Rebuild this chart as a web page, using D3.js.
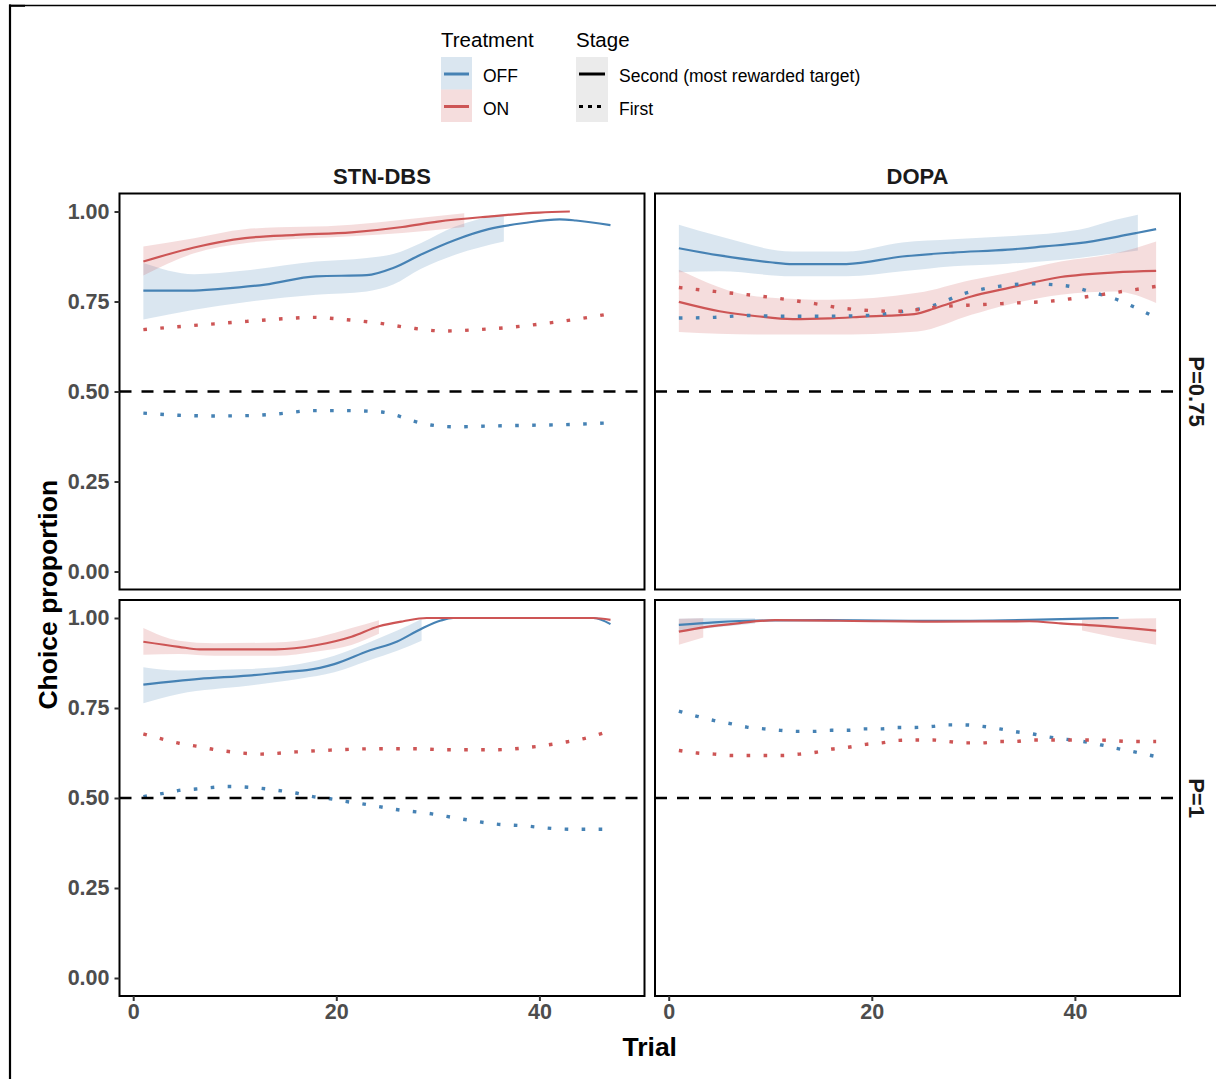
<!DOCTYPE html>
<html><head><meta charset="utf-8">
<script src="https://cdn.jsdelivr.net/npm/d3@7"></script>
<style>
body{margin:0;background:#fff}
svg{display:block}
text{font-family:"Liberation Sans",Arial,sans-serif}
</style></head>
<body><svg id="c" width="1216" height="1079"></svg>
<script>
// ---------- data ----------
const trialRange = [1, 48];
const yTicks = [0, 0.25, 0.5, 0.75, 1];
const xTicks = [0, 20, 40];
const facetCols = ["STN-DBS", "DOPA"];
const facetRows = ["P=0.75", "P=1"];
const treatments = ["OFF", "ON"];
const stages = ["Second (most rewarded target)", "First"];
const chanceLevel = 0.5;

// [trial, value]
const stn075OffSecond = [[1,0.780],[5.5,0.780],[8.6,0.785],[13,0.797],[18,0.820],[23,0.823],[25.6,0.843],[28.3,0.880],[31.7,0.921],[35,0.951],[38.5,0.968],[42,0.978],[43.6,0.975],[47,0.962]];
const stn075OnSecond  = [[1,0.861],[6,0.900],[11,0.926],[16,0.935],[21.5,0.942],[26.5,0.957],[30,0.972],[35,0.986],[40,0.997],[43,1.0]];
const stn075OffFirst  = [[1,0.440],[4.5,0.434],[8,0.432],[11.3,0.433],[14.3,0.438],[17.7,0.447],[21,0.447],[24.5,0.443],[26,0.433],[27.6,0.418],[29.3,0.407],[31.7,0.402],[35,0.404],[38.5,0.406],[42.5,0.408],[47,0.413]];
const stn075OnFirst   = [[1,0.672],[8,0.688],[11.3,0.695],[14.7,0.702],[17.7,0.706],[20.8,0.700],[24.2,0.690],[27.2,0.677],[30.6,0.668],[34,0.672],[37.4,0.679],[40.8,0.690],[43.9,0.702],[47,0.716]];
// [trial, lower, upper]
const stn075OffBand = [[1,0.700,0.857],[6,0.727,0.826],[11,0.748,0.836],[18,0.769,0.861],[23,0.778,0.871],[25.6,0.797,0.882],[28.3,0.840,0.912],[31.7,0.880,0.958],[36.5,0.917,0.993]];
const stn075OnBand  = [[1,0.822,0.903],[6,0.884,0.926],[11,0.912,0.951],[21.5,0.931,0.963],[26.5,0.940,0.977],[32.6,0.957,0.995]];

const dopa075OffSecond = [[1,0.898],[5,0.878],[10,0.859],[12.2,0.854],[17.5,0.854],[23,0.875],[28,0.886],[33.4,0.894],[37,0.903],[40.4,0.912],[44,0.929],[46,0.940],[48,0.951]];
const dopa075OnSecond  = [[1,0.749],[5,0.723],[8.7,0.709],[12.2,0.701],[15.8,0.703],[19.3,0.708],[24.2,0.715],[26.3,0.732],[29.8,0.764],[33.4,0.787],[38.6,0.818],[44,0.831],[48,0.835]];
const dopa075OffFirst  = [[1,0.704],[4.5,0.706],[7.8,0.711],[11.2,0.709],[14.4,0.709],[19.3,0.711],[22.4,0.720],[26,0.738],[29.1,0.772],[32.5,0.792],[35.6,0.799],[39,0.794],[42.2,0.772],[44,0.757],[45.5,0.739],[48,0.705]];
const dopa075OnFirst   = [[1,0.789],[4.5,0.778],[7.7,0.769],[11,0.758],[14.4,0.744],[17.5,0.730],[22.4,0.723],[27.4,0.737],[30.5,0.741],[34.1,0.746],[37.2,0.750],[40.8,0.762],[44,0.775],[48,0.792]];
const dopa075OffBand = [[1,0.831,0.963],[5,0.834,0.931],[12.2,0.820,0.889],[17.5,0.820,0.889],[23,0.834,0.914],[28,0.848,0.923],[33.4,0.855,0.931],[40.4,0.871,0.949],[44,0.884,0.977],[46.2,0.892,0.991]];
const dopa075OnBand  = [[1,0.665,0.838],[8.7,0.658,0.764],[15.8,0.658,0.755],[24.5,0.667,0.774],[29.8,0.713,0.810],[33.4,0.741,0.829],[38.6,0.769,0.861],[44,0.778,0.884],[48,0.746,0.917]];

const stn1OffSecond = [[1,0.815],[6.5,0.831],[11.3,0.840],[15.4,0.851],[17.1,0.855],[19.8,0.872],[23.2,0.909],[26,0.935],[28.3,0.969],[30.3,0.993],[31.5,1.0],[45.3,1.0],[47,0.983]];
const stn1OnSecond  = [[1,0.934],[4.5,0.920],[6.5,0.913],[14,0.913],[18.1,0.925],[21.5,0.948],[24.2,0.977],[26.6,0.991],[28.9,1.0],[45.3,1.0],[47,0.995]];
const stn1OffFirst  = [[1,0.504],[2.8,0.512],[4.5,0.521],[6.2,0.525],[9.4,0.532],[12.6,0.527],[14.3,0.521],[16,0.514],[17.7,0.504],[19.4,0.498],[20.8,0.491],[22.5,0.484],[24.2,0.476],[25.9,0.468],[28.9,0.458],[32.3,0.442],[35.6,0.428],[38.8,0.422],[40.5,0.417],[43.7,0.413],[47,0.413]];
const stn1OnFirst   = [[1,0.678],[2.8,0.664],[4.5,0.652],[6.2,0.644],[7.9,0.635],[9.4,0.629],[12.6,0.622],[16,0.628],[19.4,0.633],[24.2,0.637],[27.6,0.637],[30.8,0.634],[35.7,0.634],[39.1,0.641],[42.5,0.655],[44.2,0.664],[47,0.687]];
const stn1OffBand = [[1,0.763,0.863],[4.5,0.789,0.854],[11.3,0.812,0.858],[16.4,0.831,0.872],[19.8,0.849,0.895],[23.2,0.882,0.932],[26,0.909,0.965],[28.4,0.937,0.997]];
const stn1OnBand  = [[1,0.898,0.972],[4.5,0.900,0.937],[8,0.895,0.930],[14,0.895,0.932],[18.1,0.907,0.946],[21.5,0.925,0.972],[24.2,0.956,0.994]];

const dopa1OffSecond = [[1,0.981],[4.5,0.988],[8.7,0.993],[15,0.994],[21,0.993],[26.3,0.992],[35.5,0.995],[42,0.999],[44.3,1.0]];
const dopa1OnSecond  = [[1,0.962],[3.4,0.974],[7,0.986],[10.5,0.994],[21,0.991],[26.3,0.990],[35.5,0.991],[38.6,0.985],[42.2,0.979],[45.7,0.971],[48,0.965]];
const dopa1OffFirst  = [[1,0.741],[2.8,0.727],[4.5,0.715],[6.2,0.706],[7.7,0.697],[9.4,0.692],[11,0.688],[12.7,0.685],[14.3,0.685],[16,0.688],[17.7,0.688],[19.3,0.692],[21,0.692],[22.6,0.696],[24.2,0.696],[26,0.699],[27.5,0.703],[29.1,0.703],[30.9,0.699],[32.6,0.692],[34.2,0.684],[35.8,0.678],[37.5,0.669],[39.2,0.663],[40.8,0.657],[42.5,0.648],[44.1,0.638],[45.7,0.629],[48,0.615]];
const dopa1OnFirst   = [[1,0.632],[2.8,0.625],[4.5,0.622],[6.2,0.618],[9.5,0.618],[11.2,0.618],[12.9,0.622],[14.5,0.627],[16.1,0.636],[17.7,0.641],[19.4,0.649],[21,0.653],[22.6,0.660],[24.2,0.661],[26,0.661],[27.5,0.657],[29.1,0.653],[30.8,0.653],[32.5,0.657],[34.1,0.657],[35.6,0.661],[39,0.661],[42.3,0.661],[45.7,0.657],[48,0.657]];
const dopa1OffBand  = [[1,0.962,0.998],[5,0.975,0.999],[8.5,0.985,0.999]];
const dopa1OnBandA  = [[1,0.926,0.998],[3.4,0.946,0.999]];
const dopa1OnBandB  = [[40.7,0.965,0.995],[44,0.946,0.997],[48,0.926,0.999]];

// ---------- drawing ----------
const svg = d3.select("#c");
const W = 1216, H = 1079;
const colX = [119.5, 655], rowY = [193.5, 600], PW = 525, PH = 396;
const span = trialRange[1] - trialRange[0];
const x = d3.scaleLinear().domain([trialRange[0] - 0.05*span, trialRange[1] + 0.05*span]).range([0, PW]);
const y = d3.scaleLinear().domain([-0.05, 1.05]).range([PH, 0]);
const col = {OFF: "#4682B4", ON: "#CD5555"};
const tickCol = "#4D4D4D";

// outer frame
svg.append("line").attr("x1",9).attr("x2",W).attr("y1",5.5).attr("y2",5.5).attr("stroke","#000").attr("stroke-width",1.3);
svg.append("line").attr("x1",10).attr("x2",10).attr("y1",4.5).attr("y2",H).attr("stroke","#000").attr("stroke-width",2.2);
svg.append("line").attr("x1",9).attr("x2",25).attr("y1",5.8).attr("y2",5.8).attr("stroke","#000").attr("stroke-width",2);

const panels = [
  {c:0, r:0, bands:[[stn075OffBand,"OFF"],[stn075OnBand,"ON"]],
   lines:[[stn075OffSecond,"OFF",0],[stn075OnSecond,"ON",0],[stn075OffFirst,"OFF",1],[stn075OnFirst,"ON",1]]},
  {c:1, r:0, bands:[[dopa075OffBand,"OFF"],[dopa075OnBand,"ON"]],
   lines:[[dopa075OffSecond,"OFF",0],[dopa075OnSecond,"ON",0],[dopa075OffFirst,"OFF",1],[dopa075OnFirst,"ON",1]]},
  {c:0, r:1, bands:[[stn1OffBand,"OFF"],[stn1OnBand,"ON"]],
   lines:[[stn1OffSecond,"OFF",0],[stn1OnSecond,"ON",0],[stn1OffFirst,"OFF",1],[stn1OnFirst,"ON",1]]},
  {c:1, r:1, bands:[[dopa1OffBand,"OFF"],[dopa1OnBandA,"ON"],[dopa1OnBandB,"ON"]],
   lines:[[dopa1OffSecond,"OFF",0],[dopa1OnSecond,"ON",0],[dopa1OffFirst,"OFF",1],[dopa1OnFirst,"ON",1]]}
];

const area = d3.area().x(d => x(d[0])).y0(d => y(d[1])).y1(d => y(d[2])).curve(d3.curveMonotoneX);
const line = d3.line().x(d => x(d[0])).y(d => y(d[1])).curve(d3.curveMonotoneX);
const defs = svg.append("defs");

panels.forEach((p, i) => {
  const g = svg.append("g").attr("transform", `translate(${colX[p.c]},${rowY[p.r]})`);
  defs.append("clipPath").attr("id","clip"+i).append("rect").attr("width",PW).attr("height",PH);
  const inner = g.append("g").attr("clip-path", `url(#clip${i})`);
  p.bands.forEach(([d, t]) => {
    inner.append("path").datum(d).attr("d", area).attr("fill", col[t]).attr("fill-opacity", 0.2);
  });
  p.lines.forEach(([d, t, s]) => {
    const el = inner.append("path").datum(d).attr("d", line).attr("fill","none").attr("stroke", col[t]);
    if (s === 0) el.attr("stroke-width", 2.2);
    else el.attr("stroke-width", 3.4).attr("stroke-dasharray", "3.6 13.4");
  });
  inner.append("line").attr("x1",0).attr("x2",PW).attr("y1",y(chanceLevel)).attr("y2",y(chanceLevel))
    .attr("stroke","#000").attr("stroke-width",2.3).attr("stroke-dasharray","12 10");
  g.append("rect").attr("width",PW).attr("height",PH).attr("fill","none").attr("stroke","#000").attr("stroke-width",2);

  if (p.c === 0) {
    const ay = g.append("g").call(d3.axisLeft(y).tickValues(yTicks).tickFormat(d3.format(".2f")).tickSize(5).tickPadding(5));
    ay.select(".domain").remove();
    ay.selectAll(".tick line").attr("stroke","#333").attr("stroke-width",2);
    ay.selectAll(".tick text").attr("font-family","Liberation Sans, Arial, sans-serif").attr("font-size",21.5).attr("font-weight","bold").attr("fill",tickCol);
  }
  if (p.r === 1) {
    const ax = g.append("g").attr("transform",`translate(0,${PH})`).call(d3.axisBottom(x).tickValues(xTicks).tickFormat(d3.format("d")).tickSize(5).tickPadding(3));
    ax.select(".domain").remove();
    ax.selectAll(".tick line").attr("stroke","#333").attr("stroke-width",2);
    ax.selectAll(".tick text").attr("font-family","Liberation Sans, Arial, sans-serif").attr("font-size",21.5).attr("font-weight","bold").attr("fill",tickCol);
  }
  if (p.r === 0) {
    g.append("text").attr("x",PW/2).attr("y",-10).attr("text-anchor","middle")
      .attr("font-size",22).attr("font-weight","bold").attr("fill","#1a1a1a").text(facetCols[p.c]);
  }
  if (p.c === 1) {
    g.append("text").attr("transform",`translate(${PW+9},${PH/2}) rotate(90)`).attr("text-anchor","middle")
      .attr("font-size",22).attr("font-weight","bold").attr("fill","#1a1a1a").text(facetRows[p.r]);
  }
});

// axis titles
svg.append("text").attr("x", (colX[0] + colX[1] + PW)/2).attr("y", 1056).attr("text-anchor","middle")
  .attr("font-size",26.5).attr("font-weight","bold").text("Trial");
svg.append("text").attr("transform", `translate(57,${(rowY[0] + rowY[1] + PH)/2}) rotate(-90)`).attr("text-anchor","middle")
  .attr("font-size",26.5).attr("font-weight","bold").text("Choice proportion");

// legend
const lg = svg.append("g");
lg.append("text").attr("x",441).attr("y",47).attr("font-size",20.5).text("Treatment");
treatments.forEach((t, i) => {
  const ky = 57 + i*32.5;
  lg.append("rect").attr("x",441).attr("y",ky).attr("width",31).attr("height",32.5).attr("fill",col[t]).attr("fill-opacity",0.2);
  lg.append("line").attr("x1",444).attr("x2",469).attr("y1",ky+17).attr("y2",ky+17).attr("stroke",col[t]).attr("stroke-width",3);
  lg.append("text").attr("x",483).attr("y",ky+25).attr("font-size",17.5).text(t);
});
lg.append("text").attr("x",576).attr("y",47).attr("font-size",20.5).text("Stage");
lg.append("rect").attr("x",576).attr("y",57).attr("width",32).attr("height",65).attr("fill","#EBEBEB");
stages.forEach((s, i) => {
  const ky = 57 + i*32.5;
  const ln = lg.append("line").attr("x1",579).attr("x2",605).attr("y1",ky+17).attr("y2",ky+17).attr("stroke","#000").attr("stroke-width",3);
  if (i === 1) ln.attr("stroke-dasharray","4 5");
  lg.append("text").attr("x",619).attr("y",ky+25).attr("font-size",17.5).text(s);
});
</script>
</body></html>
